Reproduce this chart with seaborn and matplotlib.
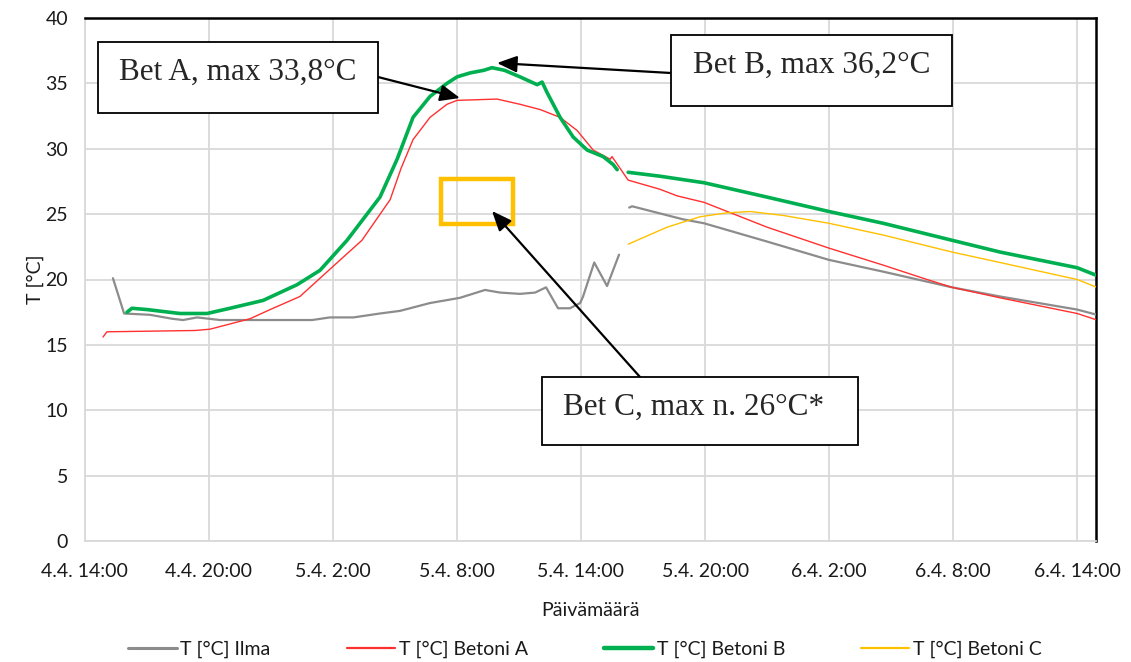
import matplotlib
matplotlib.use("Agg")
import matplotlib.pyplot as plt
import matplotlib.patches as mpatches
from matplotlib.lines import Line2D
import numpy as np
import pandas as pd
import seaborn as sns

# Time axis: hours since 4.4. 14:00
tick_hours = [0, 6, 12, 18, 24, 30, 36, 42, 48]
tick_labels = ["4.4. 14:00", "4.4. 20:00", "5.4. 2:00", "5.4. 8:00", "5.4. 14:00",
               "5.4. 20:00", "6.4. 2:00", "6.4. 8:00", "6.4. 14:00"]
y_ticks = [0, 5, 10, 15, 20, 25, 30, 35, 40]

# T [°C] Ilma (air), two logging segments
ilma_h1 = [1.37, 1.91, 3.16, 4.22, 4.76, 5.44, 6.55, 11.0, 11.86, 13.0, 14.28, 15.25,
           16.7, 17.43, 18.15, 19.36, 20.09, 21.05, 21.78, 22.31, 22.89, 23.47, 23.96,
           24.10, 24.64, 25.26, 25.84]
ilma_t1 = [20.1, 17.4, 17.3, 17.0, 16.9, 17.1, 16.9, 16.9, 17.1, 17.1, 17.4, 17.6,
           18.2, 18.4, 18.6, 19.2, 19.0, 18.9, 19.0, 19.4, 17.8, 17.8, 18.2,
           18.7, 21.3, 19.5, 21.9]
ilma_h2 = [26.33, 26.47, 28.94, 29.95, 33.00, 35.99, 38.61, 41.94, 44.26, 47.99, 48.95]
ilma_t2 = [25.5, 25.6, 24.6, 24.3, 22.9, 21.5, 20.6, 19.4, 18.7, 17.7, 17.3]

# T [°C] Betoni A
bet_a_h = [0.89, 1.08, 5.34, 6.06, 6.79, 8.00, 8.97, 10.41, 12.01, 13.41, 14.77, 15.30,
           15.88, 16.70, 17.52, 18.01, 19.94, 21.05, 22.02, 22.99, 23.81, 24.59, 25.41,
           25.50, 26.28, 27.82, 28.64, 29.95, 33.00, 35.99, 38.61, 40.73, 41.94, 44.26,
           47.99, 48.95]
bet_a_t = [15.6, 16.0, 16.1, 16.2, 16.5, 17.0, 17.7, 18.7, 21.0, 23.0, 26.1, 28.5,
           30.7, 32.4, 33.4, 33.7, 33.8, 33.4, 33.0, 32.4, 31.4, 29.9, 29.2,
           29.4, 27.6, 26.9, 26.4, 25.9, 24.0, 22.4, 21.1, 20.0, 19.4, 18.6,
           17.4, 16.9]

# T [°C] Betoni B, two logging segments
bet_b_h1 = [2.05, 2.29, 3.02, 4.61, 5.92, 7.03, 8.63, 10.27, 11.38, 12.69, 14.28, 15.11,
            15.88, 16.70, 17.52, 18.01, 18.64, 19.30, 19.70, 20.30, 21.05, 21.88, 22.12,
            22.36, 22.99, 23.62, 24.30, 25.07, 25.55, 25.75]
bet_b_t1 = [17.5, 17.8, 17.7, 17.4, 17.4, 17.8, 18.4, 19.6, 20.7, 23.0, 26.3, 29.2,
            32.4, 34.0, 35.0, 35.5, 35.8, 36.0, 36.2, 36.0, 35.5, 34.9, 35.1,
            34.3, 32.4, 30.9, 29.9, 29.4, 28.8, 28.4]
bet_b_h2 = [26.28, 27.82, 29.95, 33.00, 35.99, 38.61, 41.94, 44.26, 47.99, 48.95]
bet_b_t2 = [28.2, 27.9, 27.4, 26.3, 25.2, 24.3, 23.0, 22.1, 20.9, 20.3]

# T [°C] Betoni C
bet_c_h = [26.28, 28.16, 29.76, 31.06, 32.18, 33.77, 35.99, 38.61, 41.94, 44.26, 47.99, 48.95]
bet_c_t = [22.7, 24.0, 24.8, 25.1, 25.2, 24.9, 24.3, 23.4, 22.1, 21.3, 20.0, 19.4]

series_names = ["T [°C] Ilma", "T [°C] Betoni A", "T [°C] Betoni B", "T [°C] Betoni C"]


def frame(name, segments):
    rows = []
    for seg, (hs, ts) in enumerate(segments):
        for h, t in zip(hs, ts):
            rows.append({"series": name, "seg": seg, "h": h, "T": t})
    return pd.DataFrame(rows)


df = pd.concat([
    frame(series_names[0], [(ilma_h1, ilma_t1), (ilma_h2, ilma_t2)]),
    frame(series_names[1], [(bet_a_h, bet_a_t)]),
    frame(series_names[2], [(bet_b_h1, bet_b_t1), (bet_b_h2, bet_b_t2)]),
    frame(series_names[3], [(bet_c_h, bet_c_t)]),
], ignore_index=True)

colors = {series_names[0]: "#8c8c8c", series_names[1]: "#ff3030",
          series_names[2]: "#00b050", series_names[3]: "#ffc000"}
widths = {series_names[0]: 1.6, series_names[1]: 1.0,
          series_names[2]: 2.6, series_names[3]: 1.0}

sns.set_theme(style="white")
plt.rcParams["font.family"] = ["Lato", "DejaVu Sans"]

W, H = 1131, 662
fig = plt.figure(figsize=(W / 100, H / 100), dpi=100)
ax = fig.add_axes([84.6 / W, 1 - 541 / H, (1096 - 84.6) / W, (541 - 18) / H])

draw_order = [series_names[0], series_names[1], series_names[3], series_names[2]]
for name in draw_order:
    sub = df[df["series"] == name]
    sns.lineplot(data=sub, x="h", y="T", units="seg", estimator=None, sort=False,
                 color=colors[name], linewidth=widths[name], legend=False, ax=ax,
                 zorder=3)

ax.set_xlim(0, 48.9)
ax.set_ylim(0, 40)
ax.set_xticks(tick_hours)
ax.set_xticklabels(tick_labels)
ax.set_yticks(y_ticks)
ax.tick_params(axis="both", length=0, labelsize=14, colors="#1a1a1a")
ax.tick_params(axis="x", pad=16)
ax.tick_params(axis="y", pad=12)
ax.grid(True, color="#d9d9d9", linewidth=1.3)
ax.set_axisbelow(True)
for side in ("left", "bottom"):
    ax.spines[side].set_color("#d9d9d9")
    ax.spines[side].set_linewidth(1.3)
for side in ("top", "right"):
    ax.spines[side].set_color("black")
    ax.spines[side].set_linewidth(1.8)
ax.set_xlabel("Päivämäärä", fontsize=14, color="#1a1a1a", labelpad=16)
ax.set_ylabel("T [°C]", fontsize=14, color="#1a1a1a", labelpad=1)

# Highlighted region for Betoni C
ax.add_patch(mpatches.Rectangle((17.25, 24.25), 3.45, 3.45, fill=False,
                                edgecolor="#ffc000", linewidth=3.2, zorder=4))


def fp(x, y):
    return (x, H - y)


def box(x0, y0, x1, y1):
    fig.add_artist(mpatches.Rectangle(fp(x0, y1), x1 - x0, y1 - y0,
                                      transform=None, facecolor="white",
                                      edgecolor="black", linewidth=1.3, zorder=5))


def arrow(start, tip):
    ax.annotate("", xy=fp(*tip), xytext=fp(*start), xycoords="figure pixels",
                textcoords="figure pixels", annotation_clip=False, zorder=6,
                arrowprops=dict(arrowstyle="-|>,head_length=0.6,head_width=0.25",
                                color="black", lw=1.6, mutation_scale=20,
                                shrinkA=0, shrinkB=0))


def label(x, y, s):
    fx, fy = fp(x, y)
    fig.text(fx / W, fy / H, s, family=["Liberation Serif", "DejaVu Serif"],
             fontsize=22.5, ha="center", va="center", zorder=7)


arrow((378, 77), (460, 98))
arrow((671, 73), (497, 63))
arrow((640, 377), (492, 211))
box(98, 42, 378, 113)
box(671, 35, 952, 106)
box(542, 377, 858, 445)
label(238, 72, "Bet A, max 33,8°C")
label(812, 65, "Bet B, max 36,2°C")
label(694, 407, "Bet C, max n. 26°C*")

handles = [Line2D([], [], color=colors[n], linewidth=widths[n] + 0.6) for n in series_names]
fig.legend(handles, series_names, loc="center", ncol=4, frameon=False,
           bbox_to_anchor=(585 / W, 1 - 649 / H), fontsize=14, handlelength=2.5,
           handletextpad=0.2, columnspacing=3.9, labelcolor="#1a1a1a")

fig.savefig("out.png", dpi=100)
